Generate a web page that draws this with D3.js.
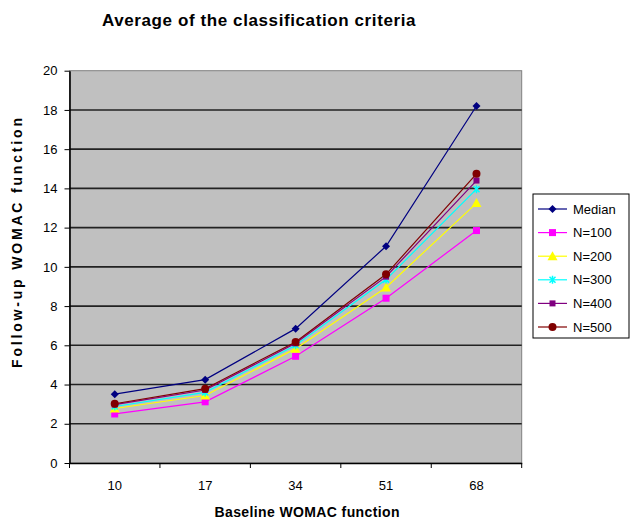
<!DOCTYPE html>
<html><head><meta charset="utf-8">
<script src="https://cdn.jsdelivr.net/npm/d3@7"></script>
<style>body{margin:0;background:#fff}svg{display:block}text{font-family:"Liberation Sans",Arial,sans-serif}</style>
</head><body>
<svg id="c" width="630" height="522"></svg>
<script>
const categories = ["10","17","34","51","68"];
const seriesNames = ["Median","N=100","N=200","N=300","N=400","N=500"];
const median = [3.51, 4.25, 6.85, 11.05, 18.2];
const n100 = [2.5, 3.12, 5.44, 8.4, 11.85];
const n200 = [2.78, 3.44, 5.83, 8.95, 13.25];
const n300 = [2.88, 3.6, 6.0, 9.35, 13.96];
const n400 = [2.98, 3.72, 6.1, 9.5, 14.4];
const n500 = [3.02, 3.79, 6.17, 9.62, 14.74];
const yTicks = [0,2,4,6,8,10,12,14,16,18,20];
const colors = ["#000080","#ff00ff","#ffff00","#00ffff","#800080","#800000"];
const markers = ["diamond","square","triangle","star","bar","circle"];
const values = [median,n100,n200,n300,n400,n500];

const svg = d3.select("#c");
const L=69.5, R=521.7, T=70.7, B=463;
const x = d3.scaleBand().domain(categories).range([L,R]);
const y = d3.scaleLinear().domain([0,20]).range([B,T]);

svg.append("rect").attr("x",L).attr("y",T).attr("width",R-L).attr("height",B-T)
  .attr("fill","#c0c0c0").attr("stroke","#808080").attr("stroke-width",1);

svg.append("g").selectAll("line").data(yTicks.filter(d=>d>0&&d<20)).join("line")
  .attr("x1",L).attr("x2",R).attr("y1",d=>y(d)).attr("y2",d=>y(d))
  .attr("stroke","#222").attr("stroke-width",1.6);

const ya = svg.append("g").attr("transform",`translate(${L},0)`)
  .call(d3.axisLeft(y).tickValues(yTicks).tickSize(5).tickSizeOuter(0));
ya.select(".domain").attr("stroke","#000").attr("stroke-width",1.6);
ya.selectAll(".tick line").attr("stroke","#000");
ya.selectAll("text").attr("font-size",13).attr("fill","#000").attr("x",-12);

const xa = svg.append("g").attr("transform",`translate(0,${B})`)
  .call(d3.axisBottom(x).tickSize(0));
xa.select(".domain").attr("stroke","#000").attr("stroke-width",1.6);
xa.selectAll("text").attr("font-size",13).attr("fill","#000").attr("dy","0.71em").attr("y",18);
svg.append("g").selectAll("line").data(d3.range(categories.length+1)).join("line")
  .attr("x1",i=>L+i*x.step()).attr("x2",i=>L+i*x.step()).attr("y1",B).attr("y2",B+5)
  .attr("stroke","#000");

const line = d3.line().x((d,i)=>x(categories[i])+x.bandwidth()/2).y(d=>y(d));

function drawMarker(g, type, color){
  if(type==="diamond") g.append("path").attr("d","M0,-4L4,0L0,4L-4,0Z").attr("fill",color);
  else if(type==="square") g.append("rect").attr("x",-3.5).attr("y",-3.5).attr("width",7).attr("height",7).attr("fill",color);
  else if(type==="triangle") g.append("path").attr("d","M0,-5L5,4L-5,4Z").attr("fill",color);
  else if(type==="star"){ g.append("path").attr("d","M-3,-3L3,3M-3,3L3,-3M0,-4L0,4").attr("stroke",color).attr("stroke-width",1.5);}
  else if(type==="bar") g.append("rect").attr("x",-3).attr("y",-3).attr("width",6).attr("height",6).attr("fill",color);
  else if(type==="circle") g.append("circle").attr("r",4).attr("fill",color);
}

values.forEach((vals,si)=>{
  svg.append("path").datum(vals).attr("d",line).attr("fill","none")
    .attr("stroke",colors[si]).attr("stroke-width",1.2);
});
values.forEach((vals,si)=>{
  vals.forEach((v,i)=>{
    const g = svg.append("g").attr("transform",`translate(${x(categories[i])+x.bandwidth()/2},${y(v)})`);
    drawMarker(g, markers[si], colors[si]);
  });
});

const lg = svg.append("g");
lg.append("rect").attr("x",533).attr("y",194).attr("width",96).attr("height",144)
  .attr("fill","#fff").attr("stroke","#000").attr("stroke-width",1);
seriesNames.forEach((n,i)=>{
  const yy = 209 + i*23.6;
  lg.append("line").attr("x1",538).attr("x2",567).attr("y1",yy).attr("y2",yy).attr("stroke",colors[i]).attr("stroke-width",1.2);
  drawMarker(lg.append("g").attr("transform",`translate(552.5,${yy})`), markers[i], colors[i]);
  lg.append("text").attr("x",573).attr("y",yy).attr("dy","0.36em").attr("font-size",13).text(n);
});

svg.append("text").attr("x",259).attr("y",26).attr("text-anchor","middle")
  .attr("font-size",17).attr("font-weight","bold").attr("letter-spacing",0.6)
  .text("Average of the classification criteria");
svg.append("text").attr("x",307).attr("y",517).attr("text-anchor","middle")
  .attr("font-size",14).attr("font-weight","bold")
  .attr("textLength",185).attr("lengthAdjust","spacing").text("Baseline WOMAC function");
svg.append("text").attr("transform","translate(22,243) rotate(-90)").attr("text-anchor","middle")
  .attr("font-size",14).attr("font-weight","bold")
  .attr("textLength",250).attr("lengthAdjust","spacing").text("Follow-up WOMAC function");
</script>
</body></html>
